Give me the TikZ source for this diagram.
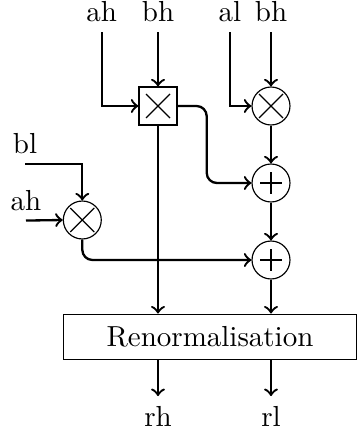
\documentclass[tikz,border=0pt]{standalone}
\begin{document}
\begin{tikzpicture}[x=0.345pt,y=-0.345pt,
  lbl/.style={anchor=base,inner sep=3.33pt},
  opc/.style={draw,circle,minimum size=13.1pt,inner sep=0pt,line width=0.4pt},
  opb/.style={draw,rectangle,minimum size=13.1pt,inner sep=0pt,line width=0.4pt},
  conn/.style={thick,->},
  sym/.style={line width=0.4pt}]
\useasboundingbox (0,0) rectangle (357,434);
% labels
\node[lbl] (ah1) at (101.7,21.5) {ah};
\node[lbl] (bh1) at (158,21.5) {bh};
\node[lbl] (al) at (230,21.5) {al};
\node[lbl] (bh2) at (271,21.5) {bh};
\node[lbl] (bl) at (25,153.6) {bl};
\node[lbl] (ah2) at (26,210) {ah};
\node[lbl] (rh) at (158,426.4) {rh};
\node[lbl] (rl) at (271,426.4) {rl};
% operators
\node[opb] (mb) at (158,106) {};
\node[opc] (m1) at (271,106) {};
\node[opc] (p1) at (271,183) {};
\node[opc] (m2) at (82.3,220) {};
\node[opc] (p2) at (271,260) {};
\node[draw,line width=0.4pt,minimum width=101.2pt,minimum height=15.6pt,inner sep=0pt] (R) at (210,336.7) {Renormalisation};
% symbols
\foreach \n in {mb,m1,m2}{
  \draw[sym] ([shift={(-12,-12)}]\n.center) -- ([shift={(12,12)}]\n.center);
  \draw[sym] ([shift={(-12,12)}]\n.center) -- ([shift={(12,-12)}]\n.center);
}
\foreach \n in {p1,p2}{
  \draw[sym] ([shift={(-11,0)}]\n.center) -- ([shift={(11,0)}]\n.center);
  \draw[sym] ([shift={(0,-11)}]\n.center) -- ([shift={(0,11)}]\n.center);
}
% connectors
\draw[conn] (ah1.south) |- (mb.west);
\draw[conn] (bh1.south) -- (mb.north);
\draw[conn] (al.south) |- (m1.west);
\draw[conn] (bh2.south) -- (m1.north);
\draw[conn] (m1.south) -- (p1.north);
\draw[conn] (p1.south) -- (p2.north);
\coordinate (k) at (206.7,183);
\draw[conn,rounded corners=3.5pt] (mb.east) -| (k) -- (p1.west);
\draw[conn] (bl.south) -| (m2.north);
\draw[conn] (ah2.south) -- (m2.west);
\draw[conn,rounded corners=3.5pt] (m2.south) |- (p2.west);
\draw[conn] (mb.south) -- (mb |- R.north);
\draw[conn] (p2.south) -- (p2 |- R.north);
\draw[conn] (R.south -| rh) -- (rh.north);
\draw[conn] (R.south -| rl) -- (rl.north);
\end{tikzpicture}
\end{document}
